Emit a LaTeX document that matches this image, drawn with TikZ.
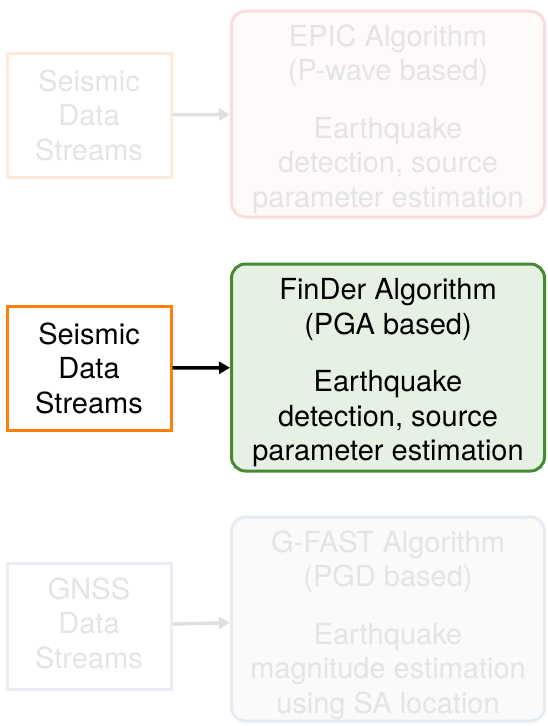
\documentclass[tikz,border=0pt]{standalone}
\usepackage{fontspec}
\setmainfont{TeX Gyre Heros}
\usetikzlibrary{arrows.meta}
\definecolor{fadetext}{HTML}{E4E4E4}
\definecolor{fadearrow}{HTML}{E0E0E0}
\definecolor{epicsrc}{HTML}{FDEBDA}
\definecolor{epicline}{HTML}{FBDCDC}
\definecolor{epicfill}{HTML}{FFFAFA}
\definecolor{finsrc}{HTML}{FF7F0A}
\definecolor{finline}{HTML}{468A33}
\definecolor{finfill}{HTML}{E7F1E3}
\definecolor{gnsssrc}{HTML}{EEEBF4}
\definecolor{gfastline}{HTML}{E5EBF3}
\definecolor{gfastfill}{HTML}{FAFAFA}
\begin{document}
\begin{tikzpicture}[x=1pt, y=1pt,
  every node/.style={font=\fontsize{29}{34.5}\selectfont, align=center, inner sep=0pt},
  srcbox/.style={draw, line width=3pt, minimum width=164pt, minimum height=124pt},
  algbox/.style={draw, line width=3pt, rounded corners=14pt, minimum width=313pt},
  feed/.style={line width=3.5pt, -{Triangle[length=11pt,width=12pt]}}]
  \useasboundingbox (0, 0) rectangle (547, -726);
  % EPIC
  \node[srcbox, epicsrc, text=fadetext] (seis1) at (89, -115) {Seismic\\Data\\Streams};
  \node[algbox, epicline, fill=epicfill, minimum height=206pt] (epic) at (388, -114) {};
  \node[text=fadetext] (epictext) at ([yshift=-5pt]epic.center)
    {EPIC Algorithm\\(P-wave based)\\[23pt]Earthquake\\detection, source\\parameter estimation};
  \draw[feed, fadearrow] (seis1) -- (epic);
  % FinDer
  \node[srcbox, finsrc, text=black] (seis2) at (89, -368) {Seismic\\Data\\Streams};
  \node[algbox, finline, fill=finfill, minimum height=207pt] (finder) at (388, -367.5) {};
  \node[text=black] (findertext) at ([yshift=-5.5pt]finder.center)
    {FinDer Algorithm\\(PGA based)\\[23pt]Earthquake\\detection, source\\parameter estimation};
  \draw[feed, black] (seis2) -- (finder);
  % G-FAST
  \node[srcbox, gnsssrc, minimum height=126pt] (gnss) at (89, -626) {};
  \node[text=fadetext] (gnsstext) at ([yshift=3pt]gnss.center) {GNSS\\Data\\Streams};
  \node[algbox, gfastline, fill=gfastfill, minimum height=204pt] (gfast) at (388, -619) {};
  \node[text=fadetext] (gfasttext) at ([yshift=-6pt]gfast.center)
    {G-FAST Algorithm\\(PGD based)\\[23pt]Earthquake\\magnitude estimation\\using SA location};
  \draw[feed, fadearrow] (gnss) -- (gfast);
\end{tikzpicture}
\end{document}
